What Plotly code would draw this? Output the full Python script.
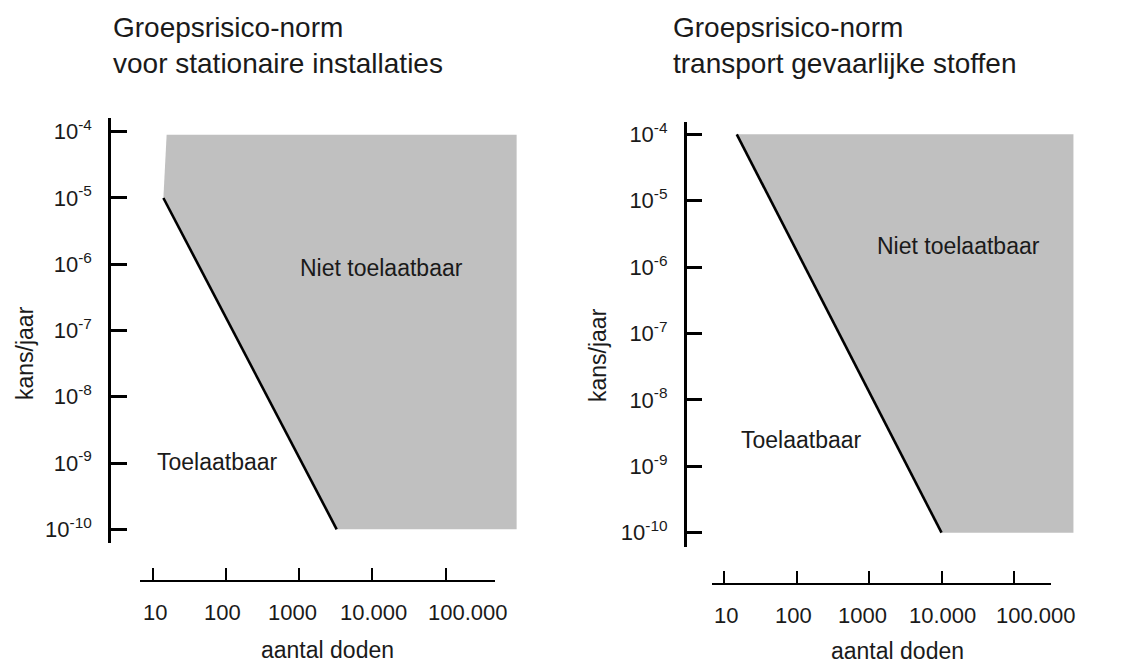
import math
import plotly.graph_objects as go

# ---------------- data ----------------
y_tick_vals = [1e-4, 1e-5, 1e-6, 1e-7, 1e-8, 1e-9, 1e-10]
y_tick_text = ["10<sup>-4</sup>", "10<sup>-5</sup>", "10<sup>-6</sup>", "10<sup>-7</sup>",
               "10<sup>-8</sup>", "10<sup>-9</sup>", "10<sup>-10</sup>"]
x_tick_vals = [10, 100, 1000, 10000, 100000]
x_tick_text = ["10", "100", "1000", "10.000", "100.000"]

# left: stationaire installaties
left_line_x = [14, 3250]
left_line_y = [1e-5, 1e-10]
left_shade_x = [14, 15.5, 930000, 930000, 3250, 14]
left_shade_y = [1e-5, 9e-5, 9e-5, 1e-10, 1e-10, 1e-5]

# right: transport gevaarlijke stoffen
right_line_x = [15, 10000]
right_line_y = [1e-4, 1e-10]
right_shade_x = [15, 660000, 660000, 10000, 15]
right_shade_y = [1e-4, 1e-4, 1e-10, 1e-10, 1e-4]

titles = ["Groepsrisico-norm<br>voor stationaire installaties",
          "Groepsrisico-norm<br>transport gevaarlijke stoffen"]
y_title = "kans/jaar"
x_title = "aantal doden"
label_bad = "Niet toelaatbaar"
label_ok = "Toelaatbaar"

# ---------------- layout helpers ----------------
W, H = 1122, 664
def fx(px):
    return px / W
def fy(py):
    return 1 - py / H

FONT = "Liberation Sans, Arial, sans-serif"
TXT = "#1a1a1a"
SHADE = "rgb(192,192,192)"

fig = go.Figure()

# left panel traces
fig.add_trace(go.Scatter(x=left_shade_x, y=left_shade_y, xaxis="x", yaxis="y",
                         mode="lines", fill="toself", fillcolor=SHADE,
                         line=dict(width=0), hoverinfo="skip", showlegend=False))
fig.add_trace(go.Scatter(x=left_line_x, y=left_line_y, xaxis="x", yaxis="y",
                         mode="lines", line=dict(color="black", width=2.6),
                         showlegend=False))
fig.add_trace(go.Scatter(x=[10], y=[1e-5], xaxis="x3", yaxis="y", mode="markers",
                         marker=dict(opacity=0), hoverinfo="skip", showlegend=False))

# right panel traces
fig.add_trace(go.Scatter(x=right_shade_x, y=right_shade_y, xaxis="x2", yaxis="y2",
                         mode="lines", fill="toself", fillcolor=SHADE,
                         line=dict(width=0), hoverinfo="skip", showlegend=False))
fig.add_trace(go.Scatter(x=right_line_x, y=right_line_y, xaxis="x2", yaxis="y2",
                         mode="lines", line=dict(color="black", width=2.6),
                         showlegend=False))
fig.add_trace(go.Scatter(x=[10], y=[1e-5], xaxis="x4", yaxis="y2", mode="markers",
                         marker=dict(opacity=0), hoverinfo="skip", showlegend=False))

yax_common = dict(type="log", showgrid=False, zeroline=False, showline=True,
                  linecolor="black", linewidth=2.5, ticks="inside", ticklen=16,
                  tickwidth=3, tickcolor="black", tickvals=y_tick_vals,
                  ticktext=y_tick_text, ticklabelstandoff=12, automargin=False,
                  tickfont=dict(family=FONT, size=22, color=TXT))
xax_vis = dict(type="log", showgrid=False, zeroline=False, showline=True,
               linecolor="black", linewidth=2, ticks="inside", ticklen=12,
               tickwidth=2, tickcolor="black", tickvals=x_tick_vals,
               showticklabels=False, anchor="free", side="bottom",
               automargin=False)
xax_hidden = dict(type="log", visible=False, showgrid=False, zeroline=False,
                  automargin=False)

fig.update_layout(
    width=W, height=H,
    autosize=False,
    margin=dict(l=0, r=0, t=0, b=0, pad=0),
    paper_bgcolor="white", plot_bgcolor="rgba(0,0,0,0)",
    showlegend=False,
    xaxis=dict(xax_hidden, domain=[fx(111), fx(530)], range=[0.4307, 6.151], anchor="y"),
    yaxis=dict(yax_common, domain=[fy(543), fy(118)], range=[-10.207, -3.793], anchor="x"),
    xaxis3=dict(xax_vis, domain=[fx(140), fx(495)], range=[0.827, 5.673], position=fy(581)),
    xaxis2=dict(xax_hidden, domain=[fx(686.7), fx(1090)], range=[0.4855, 6.048], anchor="y2"),
    yaxis2=dict(yax_common, domain=[fy(546.7), fy(121.7)], range=[-10.211, -3.810], anchor="x2"),
    xaxis4=dict(xax_vis, domain=[fx(711.7), fx(1050.7)], range=[0.830, 5.506], position=fy(584.3)),
)

ann = []
# x tick labels (placed on the visible x axes; the last one sits right of its tick as in the print)
label_shift = [2, -3, -7, 1, 22]
for xr, yp in [("x3", 612), ("x4", 615)]:
    for v, t, s in zip(x_tick_vals, x_tick_text, label_shift):
        ann.append(dict(text=t, xref=xr, yref="paper", x=math.log10(v), y=fy(yp),
                        xshift=s, xanchor="center", yanchor="middle", showarrow=False,
                        font=dict(family=FONT, size=22, color=TXT)))
# titles
for xp, t in zip([111, 671], titles):
    ann.append(dict(text=t, xref="paper", yref="paper", x=fx(xp), y=fy(10),
                    xanchor="left", yanchor="top", align="left", showarrow=False,
                    font=dict(family=FONT, size=28, color=TXT)))
# axis titles
for xp, yp in [(25, 353), (598, 355)]:
    ann.append(dict(text=y_title, xref="paper", yref="paper", x=fx(xp), y=fy(yp),
                    xanchor="center", yanchor="middle",
                    textangle=-90, showarrow=False,
                    font=dict(family=FONT, size=23, color=TXT)))
for xp, yp in [(327.5, 650), (897.5, 651)]:
    ann.append(dict(text=x_title, xref="paper", yref="paper", x=fx(xp), y=fy(yp),
                    xanchor="center", yanchor="middle", borderpad=0,
                    showarrow=False, font=dict(family=FONT, size=23, color=TXT)))
# region labels (log coordinates on the data axes)
region_labels = [(label_bad, "x", "y", 4.13, -6.057),
                 (label_ok, "x", "y", 1.878, -8.984),
                 (label_bad, "x2", "y2", 4.241, -5.682),
                 (label_ok, "x2", "y2", 2.062, -8.604)]
for t, xr, yr, xv, yv in region_labels:
    ann.append(dict(text=t, xref=xr, yref=yr, x=xv, y=yv, showarrow=False,
                    xanchor="center", yanchor="middle",
                    font=dict(family=FONT, size=23, color=TXT)))
fig.update_layout(annotations=ann)

fig.write_html("out.html", config={"displayModeBar": False},
               post_script="document.body.style.margin='0';")
